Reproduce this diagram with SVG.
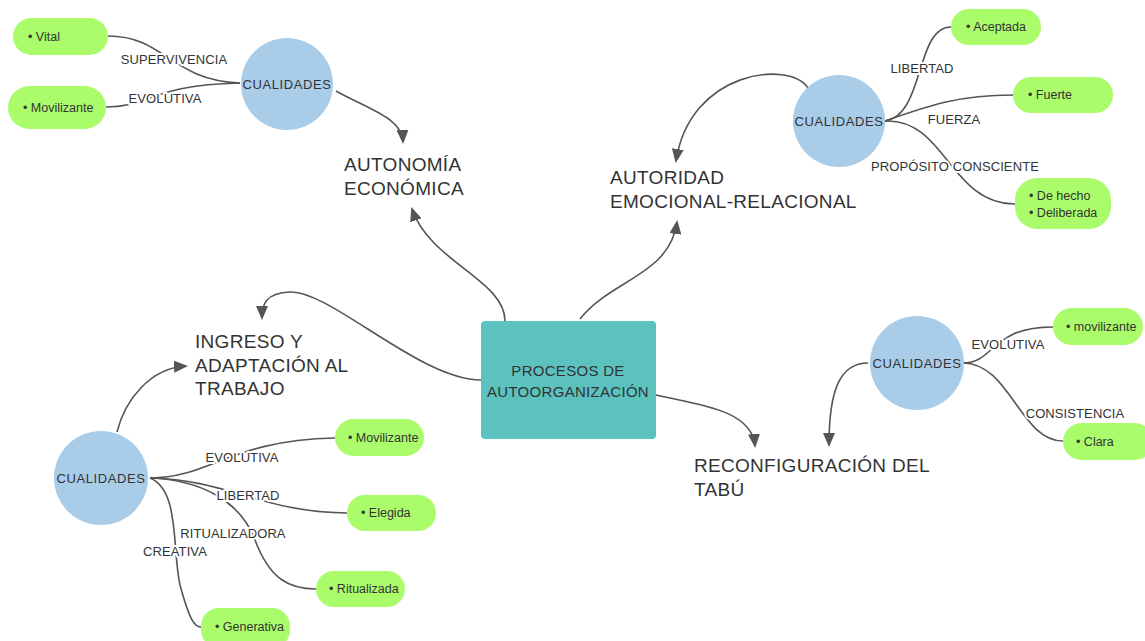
<svg xmlns="http://www.w3.org/2000/svg" width="1145" height="641" viewBox="0 0 1145 641">
<style>
.c{fill:#a9cce9}
.p{fill:#abfc6b}
.ct{font-family:"Liberation Sans",Arial,sans-serif;font-size:13px;fill:#333;letter-spacing:0.6px;text-anchor:middle}
.pt{font-family:"Liberation Sans",Arial,sans-serif;font-size:12.5px;fill:#333}
.lb{font-family:"Liberation Sans",Arial,sans-serif;font-size:13px;fill:#333;letter-spacing:0.1px;text-anchor:middle;stroke:#fff;stroke-width:4px;paint-order:stroke;stroke-linejoin:round}
.tt{font-family:"Liberation Sans",Arial,sans-serif;font-size:19px;fill:#333;letter-spacing:0.3px}
.ln{fill:none;stroke:#555;stroke-width:1.6}
.ar{fill:none;stroke:#555;stroke-width:1.6;marker-end:url(#ah)}
</style>
<defs>
<marker id="ah" viewBox="0 0 14 12" refX="12" refY="6" markerWidth="14" markerHeight="12" markerUnits="userSpaceOnUse" orient="auto">
<path d="M0,0 L14,6 L0,12 z" fill="#555"/>
</marker>
</defs>
<rect width="1145" height="641" fill="#fff"/>
<g id="connectors">
<path class="ln" d="M108,36 C165,36 170,80 240,83"/>
<path class="ln" d="M106,107 C150,107 150,85 240,83"/>
<path class="ar" d="M336,91 C370,110 402,118 403,142"/>
<path class="ar" d="M505,321 C505,280 430,262 412,209"/>
<path class="ln" d="M885,121 C925,115 915,27 951,27"/>
<path class="ln" d="M885,121 C930,105 960,95 1013,95"/>
<path class="ln" d="M885,121 C945,118 950,204 1015,204"/>
<path class="ar" d="M808,88 C790,60 690,70 676,161"/>
<path class="ar" d="M580,319 C610,280 670,275 677,222"/>
<path class="ar" d="M481,380 C420,380 330,290 290,292 C265,293 262,305 262,318"/>
<path class="ar" d="M117,432 C125,400 150,368 186,366"/>
<path class="ln" d="M150,478 C210,478 230,440 335,438"/>
<path class="ln" d="M150,478 C230,480 260,512 347,513"/>
<path class="ln" d="M150,478 C200,480 240,500 255,540 C270,580 290,589 316,589"/>
<path class="ln" d="M150,478 C180,490 172,550 180,585 C190,622 195,627 201,627"/>
<path class="ln" d="M963,363 C995,363 990,327 1053,327"/>
<path class="ln" d="M963,363 C1010,363 1020,441 1063,441"/>
<path class="ar" d="M868,363 C840,363 829,390 829,445"/>
<path class="ar" d="M656,395 C700,405 752,410 755,446"/>
</g>
<g id="labels">
<text class="lb" x="174" y="64">SUPERVIVENCIA</text>
<text class="lb" x="165" y="103">EVOLUTIVA</text>
<text class="lb" x="922" y="73">LIBERTAD</text>
<text class="lb" x="954" y="124">FUERZA</text>
<text class="lb" x="955" y="171">PROPÓSITO CONSCIENTE</text>
<text class="lb" x="242" y="462">EVOLUTIVA</text>
<text class="lb" x="248" y="500">LIBERTAD</text>
<text class="lb" x="233" y="538">RITUALIZADORA</text>
<text class="lb" x="175" y="556">CREATIVA</text>
<text class="lb" x="1008" y="349">EVOLUTIVA</text>
<text class="lb" x="1075" y="418">CONSISTENCIA</text>
</g>
<g id="central">
<rect x="481" y="321" width="175" height="118" rx="4" fill="#5bc2bf"/>
<text class="ct" x="568" y="376" style="font-size:15px;letter-spacing:0.3px">PROCESOS DE</text>
<text class="ct" x="568" y="397" style="font-size:15px;letter-spacing:0.3px">AUTOORGANIZACIÓN</text>
</g>
<g id="t-autonomia"><text class="tt" x="344" y="171">AUTONOMÍA</text><text class="tt" x="344" y="195">ECONÓMICA</text></g>
<g id="t-autoridad"><text class="tt" x="610" y="184">AUTORIDAD</text><text class="tt" x="610" y="208">EMOCIONAL-RELACIONAL</text></g>
<g id="t-ingreso"><text class="tt" x="195" y="348">INGRESO Y</text><text class="tt" x="195" y="372">ADAPTACIÓN AL</text><text class="tt" x="195" y="395">TRABAJO</text></g>
<g id="t-reconf"><text class="tt" x="694" y="472">RECONFIGURACIÓN DEL</text><text class="tt" x="694" y="496">TABÚ</text></g>
<g id="q1"><circle class="c" cx="287" cy="84" r="46"/><text class="ct" x="287" y="89">CUALIDADES</text></g>
<g id="q2"><circle class="c" cx="839" cy="121" r="46"/><text class="ct" x="839" y="126">CUALIDADES</text></g>
<g id="q3"><circle class="c" cx="101" cy="478" r="47"/><text class="ct" x="101" y="483">CUALIDADES</text></g>
<g id="q4"><circle class="c" cx="917" cy="363" r="47"/><text class="ct" x="917" y="368">CUALIDADES</text></g>
<g id="p-vital"><rect class="p" x="13" y="18" width="95" height="37" rx="18.5"/><text class="pt" x="28" y="41">• Vital</text></g>
<g id="p-movil1"><rect class="p" x="8" y="86" width="98" height="43" rx="21.5"/><text class="pt" x="23" y="112">• Movilizante</text></g>
<g id="p-aceptada"><rect class="p" x="951" y="9" width="90" height="36" rx="18"/><text class="pt" x="966" y="31">• Aceptada</text></g>
<g id="p-fuerte"><rect class="p" x="1013" y="77" width="100" height="36" rx="18"/><text class="pt" x="1028" y="99">• Fuerte</text></g>
<g id="p-dehecho"><rect class="p" x="1015" y="178" width="96" height="51" rx="22"/><text class="pt" x="1029" y="200">• De hecho</text><text class="pt" x="1029" y="217">• Deliberada</text></g>
<g id="p-movil2"><rect class="p" x="335" y="419" width="89" height="37" rx="18.5"/><text class="pt" x="348" y="442">• Movilizante</text></g>
<g id="p-elegida"><rect class="p" x="347" y="495" width="89" height="36" rx="18"/><text class="pt" x="361" y="517">• Elegida</text></g>
<g id="p-ritual"><rect class="p" x="316" y="571" width="89" height="36" rx="18"/><text class="pt" x="329" y="593">• Ritualizada</text></g>
<g id="p-generativa"><rect class="p" x="201" y="608" width="89" height="40" rx="18"/><text class="pt" x="215" y="631">• Generativa</text></g>
<g id="p-movil3"><rect class="p" x="1053" y="308" width="90" height="37" rx="18.5"/><text class="pt" x="1066" y="331">• movilizante</text></g>
<g id="p-clara"><rect class="p" x="1063" y="423" width="90" height="37" rx="18.5"/><text class="pt" x="1076" y="446">• Clara</text></g>
</svg>
